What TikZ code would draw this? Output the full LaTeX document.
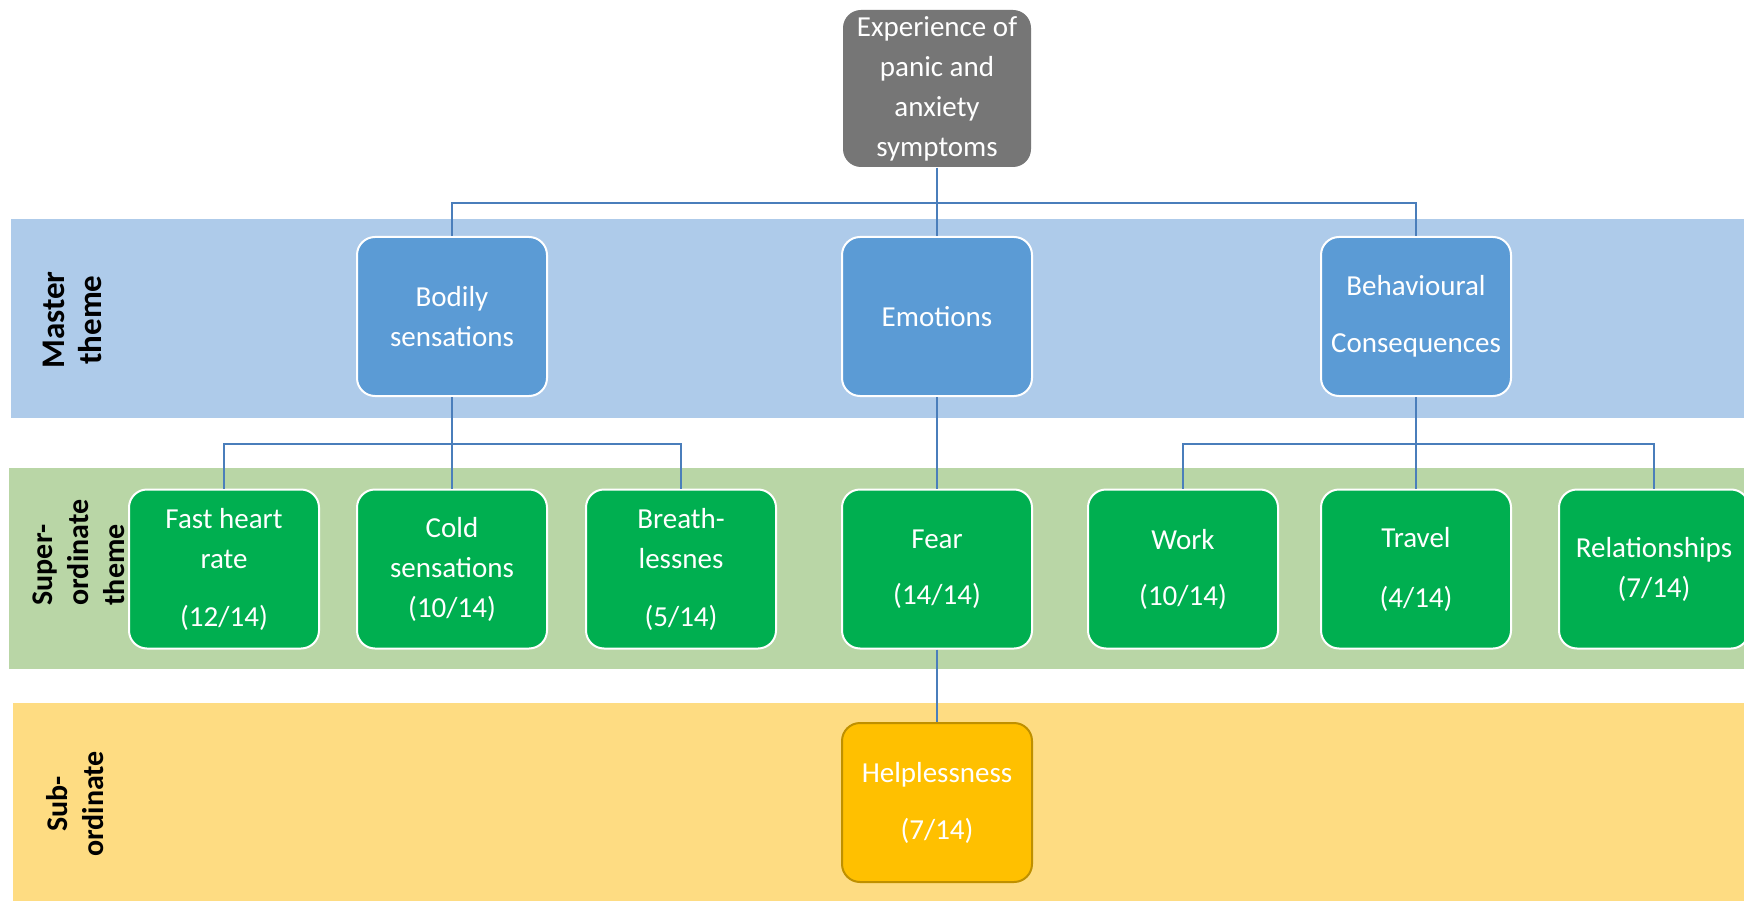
\documentclass[tikz,border=0pt]{standalone}
\usepackage{fontspec}
\setmainfont{Carlito}
\definecolor{bandblue}{HTML}{AECBEA}
\definecolor{bandgreen}{HTML}{B9D6A6}
\definecolor{bandyellow}{HTML}{FEDC82}
\definecolor{topgray}{HTML}{767676}
\definecolor{mblue}{HTML}{5B9BD5}
\definecolor{sgreen}{HTML}{00AF50}
\definecolor{syellow}{HTML}{FFC000}
\definecolor{sborder}{HTML}{BF9000}
\definecolor{lineblue}{HTML}{4A7EBB}
\begin{document}
\begin{tikzpicture}[x=1pt,y=-1pt,
  box/.style={rounded corners=18pt, minimum width=190pt, minimum height=159pt, inner sep=0pt,
    align=center, text=white, font=\fontsize{29}{40}\selectfont, line width=2pt},
  topbox/.style={box, fill=topgray, minimum width=188pt, minimum height=157pt},
  masterbox/.style={box, fill=mblue, draw=white},
  supbox/.style={box, fill=sgreen, draw=white},
  subbox/.style={box, fill=syellow, draw=sborder},
  conn/.style={draw=lineblue, line width=2pt},
  lbl/.style={rotate=90, font=\bfseries\fontsize{30}{36}\selectfont, text=black}]
\useasboundingbox (0,0) rectangle (1744,901);
\clip (0,0) rectangle (1744,901);
\fill[white] (0,0) rectangle (1744,901);
% bands
\fill[bandblue] (11,219) rectangle (1744,418);
\fill[bandgreen] (9,468) rectangle (1744,669);
\fill[bandyellow] (13,703) rectangle (1744,901);
% labels
\node[lbl, align=center, font=\bfseries\fontsize{33}{37}\selectfont] (lmaster) at (72,320) {Master\\theme};
\node[lbl, align=left, anchor=west] (lsuper) at (79,609) {Super-\\ordinate\\theme};
\node[lbl, align=center] (lsub) at (75,804) {Sub-\\ordinate};
% nodes
\node[topbox] (top) at (937,88.5) {Experience of\\panic and\\anxiety\\symptoms};
\node[masterbox] (bodily) at (452,316.5) {Bodily\\sensations};
\node[masterbox] (emo) at (937,316.5) {Emotions};
\node[masterbox] (beh) at (1416,316.5) {Behavioural\\[17pt]Consequences};
\node[supbox] (fast) at (224,569) {Fast heart\\rate\\[18pt](12/14)};
\node[supbox] (cold) at (452,569) {Cold\\sensations\\(10/14)};
\node[supbox] (breath) at (681,569) {Breath-\\lessnes\\[18pt](5/14)};
\node[supbox] (fear) at (937,569) {Fear\\[16pt](14/14)};
\node[supbox] (work) at (1183,569) {Work\\[16pt](10/14)};
\node[supbox] (travel) at (1416,569) {Travel\\[20pt](4/14)};
\node[supbox] (rel) at (1654,569) {Relationships\\(7/14)};
\node[subbox] (help) at (937,802.5) {Helplessness\\[17pt](7/14)};
% connectors
\draw[conn] (top.south) -- ++(0,35) coordinate (j1) -| (bodily.north);
\draw[conn] (j1) -| (beh.north);
\draw[conn] (top.south) -- (emo.north);
\draw[conn] (bodily.south) -- ++(0,47) coordinate (j2) -| (fast.north);
\draw[conn] (j2) -| (breath.north);
\draw[conn] (bodily.south) -- (cold.north);
\draw[conn] (emo.south) -- (fear.north);
\draw[conn] (beh.south) -- ++(0,47) coordinate (j3) -| (work.north);
\draw[conn] (j3) -| (rel.north);
\draw[conn] (beh.south) -- (travel.north);
\draw[conn] (fear.south) -- (help.north);
\end{tikzpicture}
\end{document}
